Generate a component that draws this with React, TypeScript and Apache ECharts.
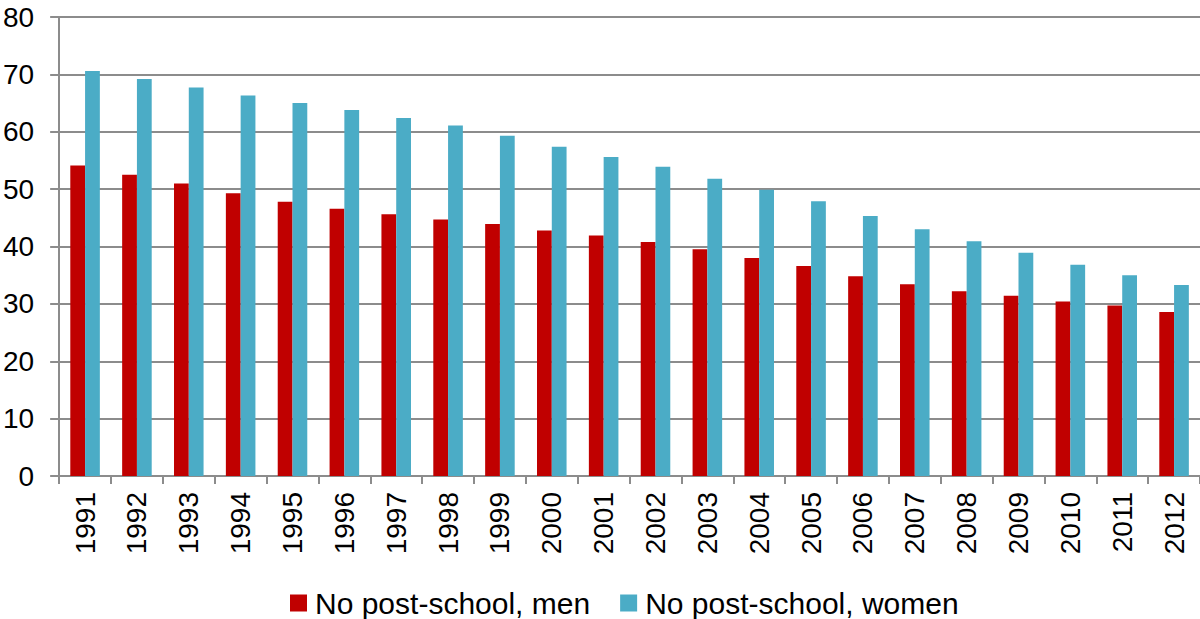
import React, { useEffect, useRef } from "react";
import * as echarts from "echarts";

const years = ["1991","1992","1993","1994","1995","1996","1997","1998","1999","2000","2001","2002","2003","2004","2005","2006","2007","2008","2009","2010","2011","2012"];
const men = [54.1,52.5,51.0,49.3,47.8,46.6,45.6,44.7,43.9,42.8,41.9,40.8,39.5,38.0,36.6,34.8,33.4,32.2,31.4,30.4,29.7,28.6];
const women = [70.6,69.2,67.7,66.3,65.0,63.8,62.4,61.1,59.3,57.4,55.6,53.9,51.8,49.9,47.9,45.3,43.0,40.9,38.9,36.8,35.0,33.3];
const yTicks = { min: 0, max: 80, interval: 10 };
const seriesNames = ["No post-school, men", "No post-school, women"];

const FONT = "'Liberation Sans', Arial, Helvetica, sans-serif";
const GRID_COLOR = "#8c8c8c";

export default function App() {
  const ref = useRef<HTMLDivElement>(null);
  useEffect(() => {
    document.body.style.margin = "0";
    const chart = echarts.init(ref.current!, null, { renderer: "svg" });
    chart.setOption({
      animation: false,
      textStyle: { fontFamily: FONT },
      grid: { left: 58, right: 0, top: 17, bottom: 143, containLabel: false },
      legend: {
        data: seriesNames,
        left: 290,
        top: 588,
        padding: 0,
        itemWidth: 17,
        itemHeight: 17,
        itemGap: 30,
        icon: "rect",
        textStyle: { fontSize: 30, color: "#000", fontFamily: FONT, padding: [0, 0, 0, 3] },
      },
      xAxis: {
        type: "category",
        data: years,
        axisLine: { lineStyle: { color: GRID_COLOR, width: 2 } },
        axisTick: { show: true, length: 8, inside: false, alignWithLabel: false, lineStyle: { color: GRID_COLOR, width: 2 } },
        axisLabel: { rotate: 90, margin: 16, fontSize: 28, color: "#000", fontFamily: FONT, interval: 0 },
      },
      yAxis: {
        type: "value",
        min: yTicks.min,
        max: yTicks.max,
        interval: yTicks.interval,
        axisLine: { show: true, lineStyle: { color: GRID_COLOR, width: 2 } },
        axisTick: { show: true, length: 9, lineStyle: { color: GRID_COLOR, width: 2 } },
        splitLine: { lineStyle: { color: GRID_COLOR, width: 2 } },
        axisLabel: { margin: 25, fontSize: 28, color: "#000", fontFamily: FONT },
      },
      series: [
        {
          name: seriesNames[0],
          type: "bar",
          data: men,
          itemStyle: { color: "#C00000" },
          barGap: "0%",
          barCategoryGap: "43%",
        },
        {
          name: seriesNames[1],
          type: "bar",
          data: women,
          itemStyle: { color: "#4BACC6" },
          barGap: "0%",
          barCategoryGap: "43%",
        },
      ],
    });
    return () => chart.dispose();
  }, []);
  return <div ref={ref} style={{ width: 1200, height: 619 }} />;
}
